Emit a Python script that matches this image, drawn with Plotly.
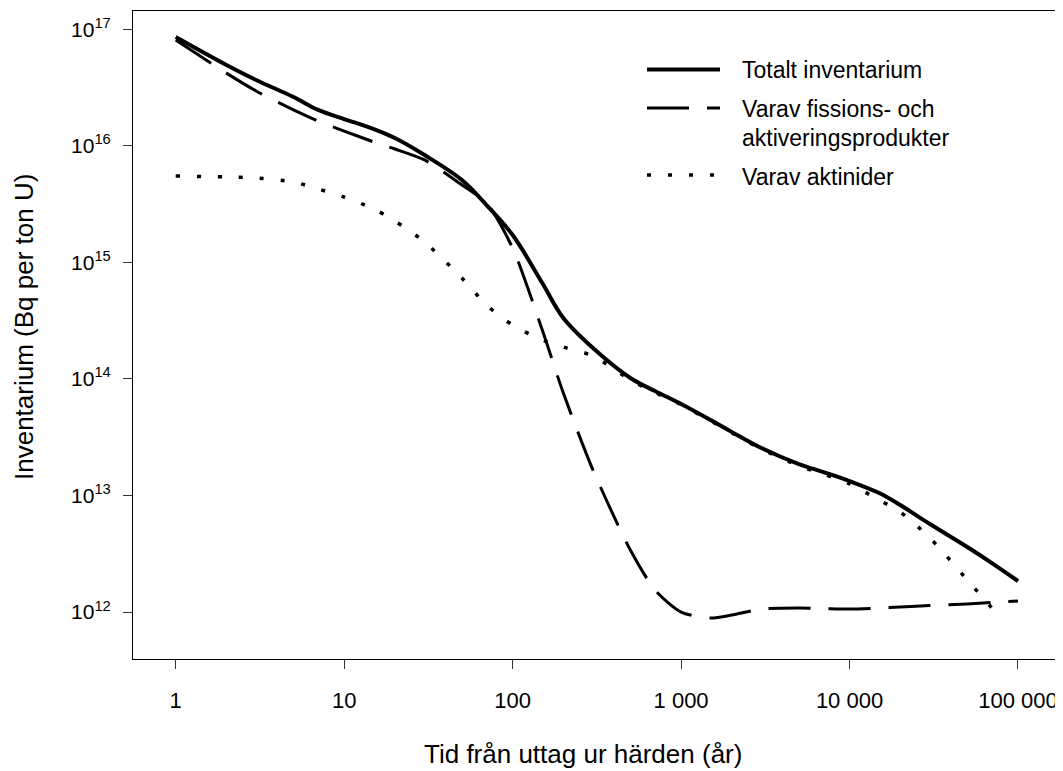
import plotly.graph_objects as go

# Time after discharge (years)
years = [1, 2, 3, 5, 7, 10, 15, 20, 30, 50, 70, 100, 150, 200, 300, 500, 700,
         1000, 1500, 2000, 3000, 5000, 7000, 10000, 15000, 20000, 30000, 50000,
         70000, 100000]

# log10 of inventory (Bq per ton U)
total_log = [16.934, 16.694, 16.565, 16.419, 16.308, 16.230, 16.144, 16.067,
             15.921, 15.707, 15.492, 15.235, 14.823, 14.523, 14.265, 14.008,
             13.896, 13.785, 13.647, 13.545, 13.407, 13.270, 13.201, 13.124,
             13.021, 12.918, 12.755, 12.558, 12.420, 12.266]

fission_log = [16.908, 16.624, 16.471, 16.308, 16.213, 16.127, 16.033, 15.973,
               15.879, 15.664, 15.510, 15.123, 14.420, 13.879, 13.218, 12.532,
               12.189, 12.000, 11.949, 11.974, 12.026, 12.034, 12.030, 12.026,
               12.034, 12.043, 12.056, 12.069, 12.082, 12.094]

act_years = [1, 2, 3, 5, 7, 10, 15, 20, 30, 50, 70, 100, 150, 200, 300, 500,
             700, 1000, 1500, 2000, 3000, 5000, 7000, 10000, 15000, 20000,
             30000, 50000, 70000, 80000]
actinide_log = [15.741, 15.733, 15.724, 15.690, 15.630, 15.561, 15.458, 15.355,
                15.175, 14.866, 14.634, 14.463, 14.334, 14.274, 14.197, 13.991,
                13.884, 13.778, 13.640, 13.538, 13.398, 13.255, 13.183, 13.100,
                12.961, 12.858, 12.635, 12.275, 12.034, 11.931]

x_tickvals = [1, 10, 100, 1000, 10000, 100000]
x_ticktext = ["1", "10", "100", "1 000", "10 000", "100 000"]
y_exponents = [12, 13, 14, 15, 16, 17]

legend_labels = ["Totalt inventarium", "Varav fissions- och",
                 "aktiveringsprodukter", "Varav aktinider"]

total = [10 ** v for v in total_log]
fission = [10 ** v for v in fission_log]
actinide = [10 ** v for v in actinide_log]

FONT = "Liberation Sans, Arial, Helvetica, sans-serif"

fig = go.Figure()
fig.add_trace(go.Scatter(x=years, y=fission, mode="lines", name=legend_labels[1],
                         line=dict(color="black", width=3, dash="42px,18px",
                                   shape="spline", smoothing=0.7)))
fig.add_trace(go.Scatter(x=act_years, y=actinide, mode="lines", name=legend_labels[3],
                         line=dict(color="black", width=3.5, dash="4px,17px",
                                   shape="spline", smoothing=0.8)))
fig.add_trace(go.Scatter(x=years, y=total, mode="lines", name=legend_labels[0],
                         line=dict(color="black", width=4,
                                   shape="spline", smoothing=1.0)))

# page body adds an 8px offset; size the figure so the plot lands where the reference has it
OFF = 8
W, H = 1063 - OFF, 771 - OFF
L, R, T, B = 133 - OFF, 2, 11 - OFF, 112
pw, ph = W - L - R, H - T - B


def px(x):
    return (x - OFF - L) / pw


def py(y):
    return (H - B - (y - OFF)) / ph


shapes = [
    dict(type="line", xref="paper", yref="paper", x0=px(647), x1=px(720),
         y0=py(69.5), y1=py(69.5), line=dict(color="black", width=4)),
    dict(type="line", xref="paper", yref="paper", x0=px(647), x1=px(720),
         y0=py(108), y1=py(108), line=dict(color="black", width=3, dash="42px,18px")),
    dict(type="line", xref="paper", yref="paper", x0=px(647), x1=px(720),
         y0=py(175), y1=py(175), line=dict(color="black", width=3.5, dash="4px,17px")),
]

annotations = []
for text, yy in zip(legend_labels, [70, 109, 138, 177]):
    annotations.append(dict(text=text, xref="paper", yref="paper", x=px(740),
                            y=py(yy), xanchor="left", yanchor="middle",
                            showarrow=False, font=dict(family=FONT, size=23, color="black")))

annotations.append(dict(text="Tid från uttag ur härden (år)", xref="paper", yref="paper",
                        x=px(583), y=py(754), xanchor="center", yanchor="middle",
                        showarrow=False, font=dict(family=FONT, size=26, color="black")))
annotations.append(dict(text="Inventarium (Bq per ton U)", xref="paper", yref="paper",
                        x=px(24), y=py(327), xanchor="center", yanchor="middle",
                        textangle=-90, showarrow=False,
                        font=dict(family=FONT, size=26, color="black")))

fig.update_layout(
    width=W, height=H, autosize=False,
    margin=dict(l=L, r=R, t=T, b=B),
    paper_bgcolor="white", plot_bgcolor="white",
    showlegend=False,
    font=dict(family=FONT, color="black"),
    shapes=shapes, annotations=annotations,
)
fig.update_xaxes(type="log", range=[-0.2535, 5.2553], tickvals=x_tickvals,
                 ticktext=x_ticktext, showgrid=False, zeroline=False,
                 showline=True, linecolor="black", linewidth=1, mirror=True,
                 ticks="outside", ticklen=9, tickcolor="#333", tickwidth=1,
                 ticklabelstandoff=13,
                 tickfont=dict(family=FONT, size=22, color="black"))
fig.update_yaxes(type="log", range=[11.597, 17.157],
                 tickvals=[10 ** e for e in y_exponents],
                 ticktext=["10<sup>%d</sup>" % e for e in y_exponents],
                 showgrid=False, zeroline=False,
                 showline=True, linecolor="black", linewidth=1, mirror=True,
                 ticks="outside", ticklen=9, tickcolor="#333", tickwidth=1,
                 ticklabelstandoff=8,
                 tickfont=dict(family=FONT, size=21, color="black"))

fig.write_html("out.html")
